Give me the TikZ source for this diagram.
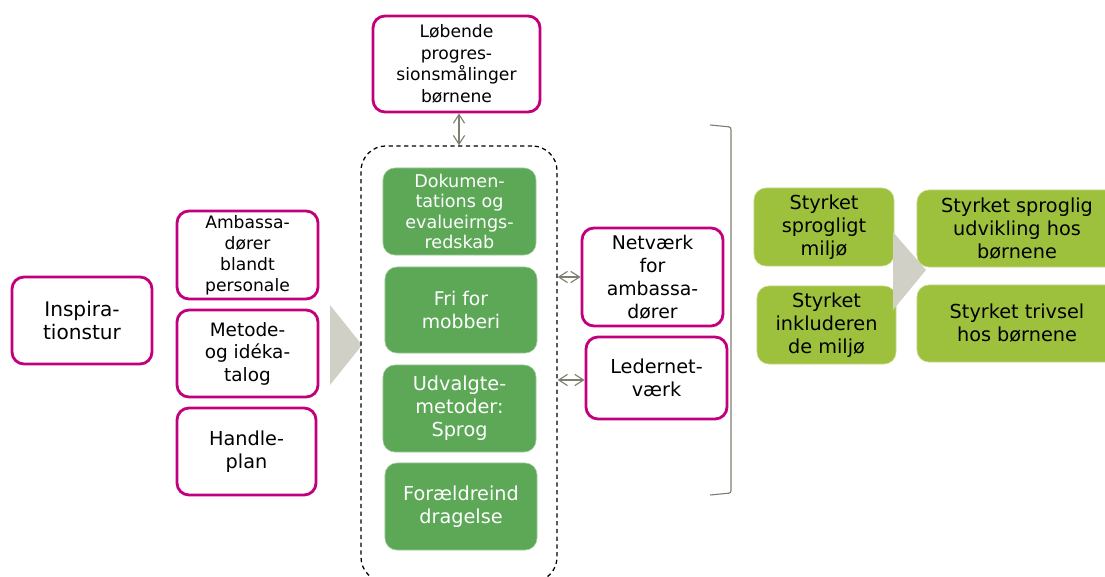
\documentclass[tikz,border=0pt]{standalone}
\usepackage{fontspec}
\setmainfont{DejaVu Sans}
\usetikzlibrary{arrows.meta,positioning}

\definecolor{plum}{HTML}{C2007E}
\definecolor{leaf}{HTML}{5CA857}
\definecolor{lime}{HTML}{9DC13D}
\definecolor{pebble}{HTML}{D0D0C7}
\definecolor{ash}{HTML}{7F7F70}

\tikzset{
	bigtext/.style={font=\fontsize{13.7}{16.4}\selectfont},
	smalltext/.style={font=\fontsize{12.2}{15}\selectfont},
	pinkbox/.style={draw=plum, line width=2pt, rounded corners=3mm, fill=white, align=center, inner sep=1pt, bigtext},
	greenbox/.style={fill=leaf, draw=leaf!60!white, line width=0.4pt, rounded corners=3mm, text=white, align=center, inner sep=1pt, minimum width=38.25mm, minimum height=21.75mm, bigtext},
	limebox/.style={fill=lime, draw=lime!60!white, line width=0.4pt, rounded corners=3mm, align=center, inner sep=1pt, bigtext},
	twoway/.style={ash, line width=0.8pt, {Straight Barb[length=2.2mm, width=2.8mm]}-{Straight Barb[length=2.2mm, width=2.8mm]}}
}

\begin{document}
\begin{tikzpicture}[x=0.025cm, y=-0.025cm]
	\useasboundingbox (0,0) rectangle (1105,577);
	\clip (0,0) rectangle (1105,577);

	% left column
	\node[pinkbox, font=\fontsize{14.3}{16.8}\selectfont, minimum width=35mm, minimum height=21.75mm] (insp) at (82,320.5) {Inspira-\\tionstur};
	\node[pinkbox, smalltext, minimum width=35.25mm, minimum height=22mm] (amb) at (247.5,255) {Ambassa-\\dører\\blandt\\personale};
	\node[pinkbox, font=\fontsize{13.1}{16}\selectfont, minimum width=35.25mm, minimum height=21.75mm] (meto) at (247.5,353.5) {Metode-\\og idéka-\\talog};
	\node[pinkbox, minimum width=34.75mm, minimum height=21.75mm] (plan) at (246.5,451.5) {Handle-\\plan};

	\fill[pebble] (330,305) -- (362,345) -- (330,385) -- cycle;

	% dashed frame with the green steps
	\node[draw, dashed, line width=0.9pt, dash pattern=on 3pt off 2.5pt, rounded corners=6.25mm, minimum width=49mm, minimum height=109mm] (frame) at (459,364) {};

	\node[pinkbox, font=\fontsize{12.2}{15.3}\selectfont, minimum width=41.75mm, minimum height=24mm] (lob) at (456.5,64) {Løbende\\progres-\\sionsmålinger\\børnene};

	\node[greenbox, font=\fontsize{12.5}{14.3}\selectfont] (dok) at (459.5,211.5) {Dokumen-\\tations og\\evalueirngs-\\redskab};
	\node[greenbox, font=\fontsize{13.4}{16.4}\selectfont, minimum width=38mm, minimum height=21.5mm] (fri) at (461,310) {Fri for\\mobberi};
	\node[greenbox] (udv) at (459.5,408.5) {Udvalgte-\\metoder:\\Sprog};
	\node[greenbox, minimum width=38mm] (foral) at (461,506.5) {Forældreind\\dragelse};

	% networks
	\node[pinkbox, font=\fontsize{13.4}{16.4}\selectfont, minimum width=35.25mm, minimum height=24.5mm] (net) at (652.5,277) {Netværk\\for\\ambassa-\\dører};
	\node[pinkbox, minimum width=35.25mm, minimum height=20.5mm] (leder) at (656.5,378) {Ledernet-\\værk};

	\draw[twoway] (frame.north) -- (frame.north |- lob.south);
	\draw[twoway] (net.west -| frame.east) -- (net.west);
	\draw[twoway] ([yshift=-0.5mm]leder.west -| frame.east) -- ([yshift=-0.5mm]leder.west);

	% bracket
	\draw[ash, line width=0.8pt, rounded corners=0.6mm] (710,125) -- (731,127) -- (731,493) -- (710,495);

	% outcomes
	\node[limebox, minimum width=35mm, minimum height=19.5mm] (miljo) at (824,227) {Styrket\\sprogligt\\miljø};
	\node[limebox, minimum width=34.75mm, minimum height=19.5mm] (inkl) at (826.5,325) {Styrket\\inkluderen\\de miljø};

	\fill[pebble] (893,232) -- (926,270) -- (893,310) -- cycle;

	\node[limebox, minimum width=50mm, minimum height=19.25mm] (udvik) at (1017,228.5) {Styrket sproglig\\udvikling hos\\børnene};
	\node[limebox, minimum width=50mm, minimum height=19.25mm] (triv) at (1017,323.5) {Styrket trivsel\\hos børnene};
\end{tikzpicture}
\end{document}
